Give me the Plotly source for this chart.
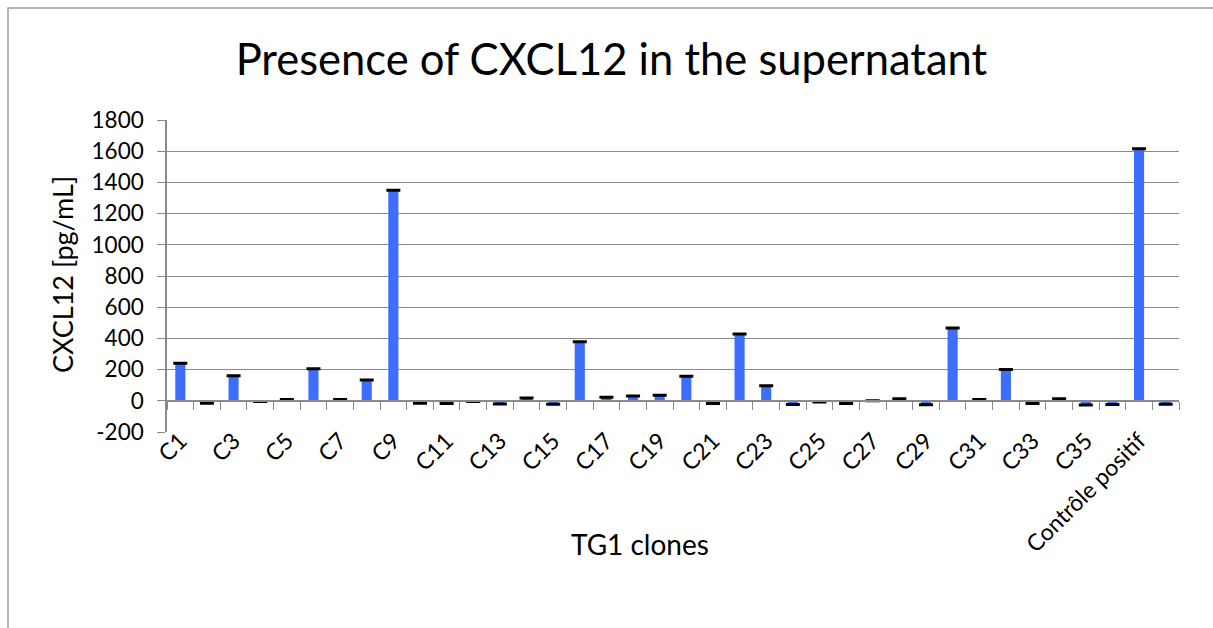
import plotly.graph_objects as go

# CXCL12 concentration measured in the supernatant of each TG1 clone
categories = [f"C{i}" for i in range(1, 37)] + ["Contrôle positif", "Contrôle négatif"]
cxcl12 = [
    240, -15, 160, -5, 8, 205, 8, 133, 1350, -15,
    -17, -5, -20, 18, -22, 378, 23, 30, 36, 158,
    -18, 429, 96, -24, -7, -18, 0, 13, -25, 466,
    8, 201, -18, 13, -27, -23, 1615, -22,
]
y_ticks = [-200, 0, 200, 400, 600, 800, 1000, 1200, 1400, 1600, 1800]
y_tick_text = [str(v) for v in y_ticks]

FONT = "Lato"
GRID = "#8a8a8a"
BAR = "#3D6EFF"

fig = go.Figure()

fig.add_trace(go.Bar(
    x=categories, y=cxcl12,
    marker=dict(color=BAR, line=dict(width=0)),
    error_y=dict(type="constant", value=0, color="black", thickness=3, width=7),
    xaxis="x", yaxis="y",
    hoverinfo="x+y",
))

# invisible copy on the zero-crossing axis so its boundary ticks get drawn
fig.add_trace(go.Scatter(
    x=categories, y=cxcl12, mode="markers",
    marker=dict(opacity=0), xaxis="x2", yaxis="y",
    hoverinfo="skip", showlegend=False,
))

fig.update_layout(
    width=1213, height=628,
    margin=dict(l=167, r=34, t=120, b=196),
    paper_bgcolor="white", plot_bgcolor="white",
    showlegend=False,
    bargap=0.62,
    font=dict(family=FONT, color="black"),
    title=dict(
        text="Presence of CXCL12 in the supernatant",
        x=0.504, xref="container", xanchor="center",
        y=1 - 60 / 628, yref="container", yanchor="middle",
        font=dict(family=FONT, size=43.5, color="black"),
    ),
    xaxis=dict(
        type="category", categoryorder="array", categoryarray=categories,
        range=[-0.5, len(categories) - 0.5],
        tickmode="array", tickvals=categories[::2], ticktext=categories[::2],
        tickangle=-45, tickfont=dict(family=FONT, size=23),
        ticklabelstandoff=-10,
        showline=False, ticks="", showgrid=False, zeroline=False,
    ),
    xaxis2=dict(
        type="category", categoryorder="array", categoryarray=categories,
        range=[-0.5, len(categories) - 0.5],
        overlaying="x", anchor="free", position=0.1,
        tickmode="linear", tick0=0, dtick=1, tickson="boundaries",
        ticks="outside", ticklen=8, tickcolor=GRID, tickwidth=1,
        showticklabels=False, showline=True, linecolor=GRID, linewidth=1.5,
        showgrid=False, zeroline=False,
    ),
    yaxis=dict(
        range=[-200, 1800], tickmode="array", tickvals=y_ticks, ticktext=y_tick_text,
        tickfont=dict(family=FONT, size=22.5),
        showgrid=True, gridcolor=GRID, gridwidth=1,
        showline=True, linecolor=GRID, linewidth=1.5,
        ticks="outside", ticklen=8, tickcolor=GRID,
        ticklabelstandoff=9,
        zeroline=False,
    ),
    annotations=[
        dict(text="CXCL12 [pg/mL]", textangle=-90, xref="paper", yref="paper",
             x=(62 - 167) / 1012, y=(432 - 275) / 312, xanchor="center", yanchor="middle",
             showarrow=False, font=dict(family=FONT, size=27, color="black")),
        dict(text="TG1 clones", xref="paper", yref="paper",
             x=(640 - 167) / 1012, y=(432 - 544) / 312, xanchor="center", yanchor="middle",
             showarrow=False, font=dict(family=FONT, size=28, color="black")),
    ],
    shapes=[
        dict(type="rect", xref="paper", yref="paper",
             x0=(8 - 167) / 1012, x1=(1230 - 167) / 1012,
             y0=(432 - 650) / 312, y1=(432 - 8) / 312,
             line=dict(color="#a0a0a0", width=1.5), layer="below"),
    ],
)

fig.write_html("out.html")
